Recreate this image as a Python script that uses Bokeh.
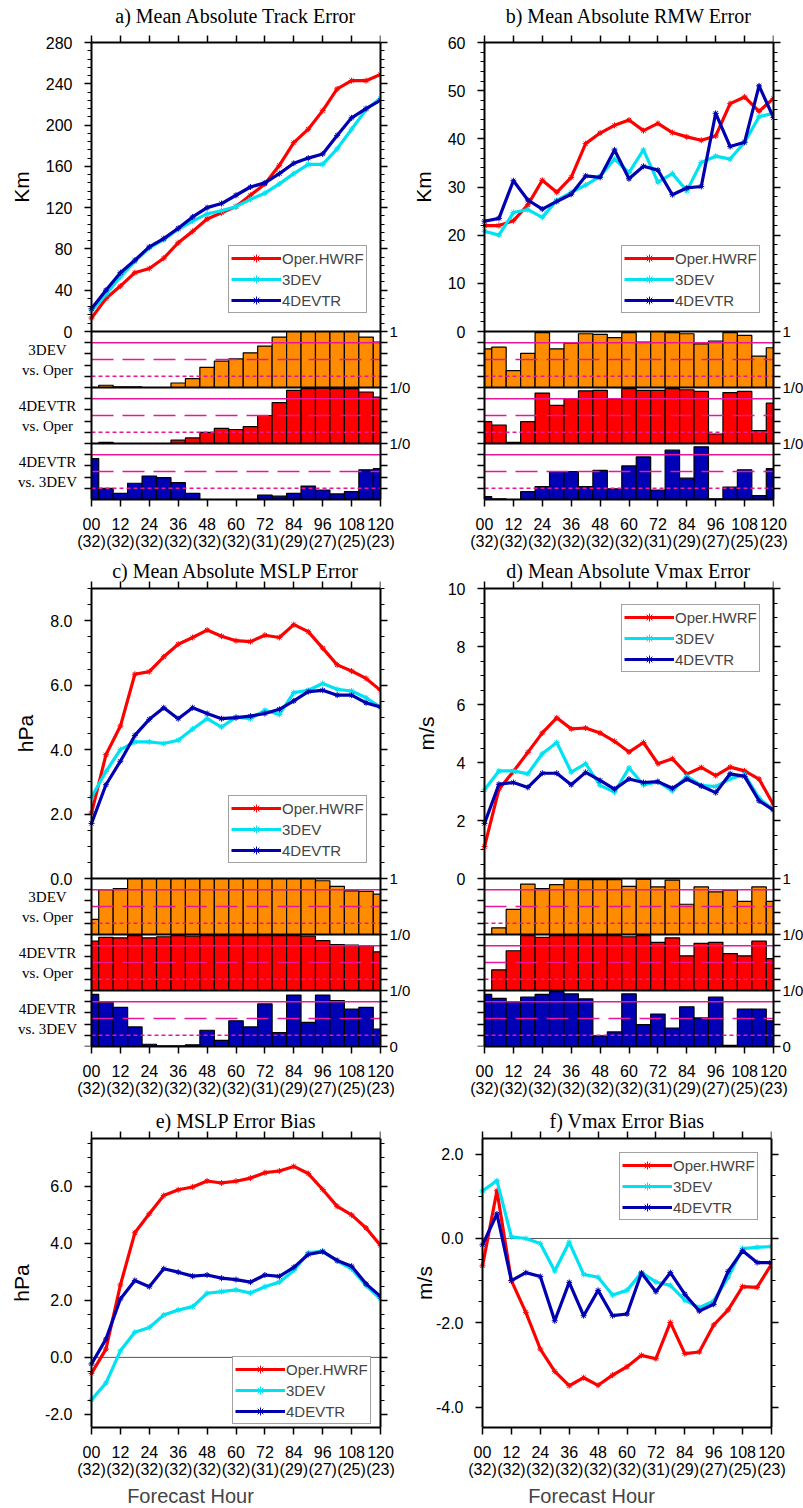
import math
from bokeh.plotting import figure
from bokeh.layouts import column, row
from bokeh.models import (Range1d, LinearAxis, FixedTicker, Legend, LegendItem)
from bokeh.core.properties import value
from bokeh.embed import file_html
from bokeh.resources import INLINE

# ---------------- data ----------------
hours = [0, 6, 12, 18, 24, 30, 36, 42, 48, 54, 60, 66, 72, 78, 84, 90, 96, 102, 108, 114, 120]
x_tick_hours = [0, 12, 24, 36, 48, 60, 72, 84, 96, 108, 120]
x_tick_labels = ["00", "12", "24", "36", "48", "60", "72", "84", "96", "108", "120"]
case_counts = ["(32)", "(32)", "(32)", "(32)", "(32)", "(32)", "(31)", "(29)", "(27)", "(25)", "(23)"]
series_names = ["Oper.HWRF", "3DEV", "4DEVTR"]
bar_names = ["3DEV\nvs. Oper", "4DEVTR\nvs. Oper", "4DEVTR\nvs. 3DEV"]

track_oper = [13, 32, 44, 57, 61, 71, 86, 97, 109, 115, 121, 132, 143, 161, 183, 196, 214, 235, 243, 243, 249]
track_3dev = [20, 36, 53, 68, 81, 89, 99, 107, 114, 117, 121, 128, 134, 143, 153, 162, 162, 177, 196, 215, 226]
track_4devtr = [22, 40, 57, 69, 82, 90, 100, 111, 120, 124, 132, 140, 144, 153, 163, 168, 172, 190, 207, 216, 224]

rmw_oper = [22.0, 22.0, 23.0, 26.3, 31.4, 28.9, 32.0, 39.0, 41.2, 42.8, 43.9, 41.7, 43.2, 41.3, 40.4, 39.7, 40.6, 47.3, 48.7, 45.7, 48.4]
rmw_3dev = [20.8, 20.0, 24.7, 25.3, 23.7, 27.2, 28.9, 30.4, 32.2, 35.8, 33.0, 37.7, 31.0, 32.8, 29.2, 35.1, 36.4, 35.8, 39.3, 44.6, 45.3]
rmw_4devtr = [22.9, 23.5, 31.3, 27.3, 25.4, 27.0, 28.5, 32.3, 32.0, 37.7, 31.7, 34.3, 33.5, 28.4, 29.8, 30.1, 45.3, 38.4, 39.3, 51.0, 44.4]

mslp_oper = [2.03, 3.84, 4.73, 6.34, 6.42, 6.88, 7.27, 7.48, 7.71, 7.52, 7.38, 7.35, 7.55, 7.48, 7.88, 7.66, 7.15, 6.63, 6.44, 6.21, 5.84]
mslp_3dev = [2.52, 3.32, 4.00, 4.24, 4.24, 4.19, 4.29, 4.64, 4.96, 4.70, 5.01, 4.96, 5.22, 5.09, 5.77, 5.84, 6.05, 5.87, 5.82, 5.61, 5.32]
mslp_4devtr = [1.71, 2.91, 3.64, 4.44, 4.94, 5.30, 4.96, 5.30, 5.12, 4.96, 4.99, 5.04, 5.12, 5.25, 5.51, 5.80, 5.84, 5.69, 5.69, 5.45, 5.32]

vmax_oper = [1.10, 3.08, 3.69, 4.35, 5.02, 5.54, 5.16, 5.19, 5.02, 4.73, 4.36, 4.69, 3.96, 4.13, 3.60, 3.83, 3.55, 3.84, 3.71, 3.43, 2.54]
vmax_3dev = [3.06, 3.71, 3.71, 3.61, 4.30, 4.69, 3.67, 3.96, 3.21, 2.98, 3.81, 3.23, 3.34, 3.02, 3.52, 3.21, 3.17, 3.44, 3.58, 2.77, 2.36]
vmax_4devtr = [1.90, 3.25, 3.31, 3.14, 3.63, 3.63, 3.23, 3.66, 3.38, 3.08, 3.43, 3.31, 3.34, 3.11, 3.43, 3.19, 2.96, 3.61, 3.52, 2.68, 2.36]

mslp_bias_oper = [-0.56, 0.29, 2.54, 4.37, 5.04, 5.68, 5.88, 5.98, 6.19, 6.12, 6.18, 6.29, 6.48, 6.54, 6.70, 6.45, 5.89, 5.30, 5.00, 4.54, 3.93]
mslp_bias_3dev = [-1.49, -0.90, 0.23, 0.88, 1.05, 1.49, 1.66, 1.78, 2.25, 2.31, 2.37, 2.26, 2.48, 2.64, 3.05, 3.67, 3.73, 3.38, 3.11, 2.52, 2.05]
mslp_bias_4devtr = [-0.23, 0.64, 2.05, 2.70, 2.48, 3.11, 2.99, 2.85, 2.89, 2.78, 2.73, 2.64, 2.89, 2.84, 3.16, 3.61, 3.71, 3.40, 3.20, 2.58, 2.14]

vmax_bias_oper = [-0.65, 1.13, -1.00, -1.75, -2.62, -3.15, -3.49, -3.30, -3.48, -3.24, -3.04, -2.77, -2.85, -1.99, -2.73, -2.69, -2.05, -1.69, -1.14, -1.16, -0.61]
vmax_bias_3dev = [1.13, 1.37, 0.04, 0.00, -0.12, -0.77, -0.09, -0.85, -0.92, -1.34, -1.23, -0.81, -1.03, -1.11, -1.46, -1.64, -1.48, -0.92, -0.24, -0.21, -0.19]
vmax_bias_4devtr = [-0.15, 0.58, -1.00, -0.81, -0.90, -1.95, -1.04, -1.83, -1.23, -1.83, -1.79, -0.82, -1.26, -0.81, -1.32, -1.72, -1.56, -0.78, -0.29, -0.57, -0.57]

track_3dev_vs_oper = [0.0, 0.04, 0.01, 0.01, 0.0, 0.0, 0.08, 0.16, 0.36, 0.47, 0.51, 0.62, 0.74, 0.90, 1.0, 1.0, 1.0, 1.0, 1.0, 0.90, 0.81]
track_4devtr_vs_oper = [0.0, 0.02, 0.0, 0.0, 0.0, 0.0, 0.06, 0.10, 0.20, 0.27, 0.25, 0.30, 0.50, 0.73, 0.95, 0.98, 0.99, 0.98, 0.98, 0.92, 0.83]
track_4devtr_vs_3dev = [0.73, 0.20, 0.11, 0.29, 0.42, 0.39, 0.30, 0.11, 0.0, 0.0, 0.0, 0.0, 0.08, 0.06, 0.11, 0.24, 0.17, 0.10, 0.14, 0.53, 0.55]

rmw_3dev_vs_oper = [0.69, 0.72, 0.30, 0.61, 0.98, 0.69, 0.79, 0.96, 0.95, 0.89, 0.98, 0.81, 1.0, 0.98, 0.96, 0.78, 0.83, 0.98, 0.93, 0.56, 0.71]
rmw_4devtr_vs_oper = [0.39, 0.33, 0.02, 0.39, 0.90, 0.68, 0.79, 0.94, 0.95, 0.79, 0.98, 0.95, 0.95, 0.98, 0.96, 0.93, 0.17, 0.91, 0.93, 0.23, 0.72]
rmw_4devtr_vs_3dev = [0.05, 0.01, 0.0, 0.14, 0.23, 0.50, 0.50, 0.23, 0.52, 0.19, 0.60, 0.76, 0.17, 0.88, 0.38, 0.94, 0.01, 0.22, 0.53, 0.07, 0.55]

mslp_3dev_vs_oper = [0.27, 0.80, 0.82, 1.0, 1.0, 1.0, 1.0, 1.0, 1.0, 1.0, 1.0, 1.0, 1.0, 1.0, 1.0, 1.0, 0.96, 0.86, 0.78, 0.77, 0.72]
mslp_4devtr_vs_oper = [0.88, 0.95, 0.94, 0.98, 0.94, 0.96, 0.98, 0.97, 0.98, 0.98, 0.98, 0.98, 0.98, 0.98, 0.98, 0.97, 0.89, 0.82, 0.81, 0.80, 0.69]
mslp_4devtr_vs_3dev = [0.93, 0.79, 0.70, 0.35, 0.04, 0.01, 0.01, 0.03, 0.29, 0.11, 0.46, 0.35, 0.76, 0.25, 0.92, 0.43, 0.92, 0.82, 0.67, 0.70, 0.31]

vmax_3dev_vs_oper = [0.0, 0.12, 0.45, 0.90, 0.82, 0.89, 0.99, 0.98, 0.98, 0.98, 0.86, 0.99, 0.85, 0.97, 0.54, 0.85, 0.76, 0.79, 0.59, 0.85, 0.59]
vmax_4devtr_vs_oper = [0.0, 0.37, 0.71, 0.98, 0.95, 0.98, 0.98, 0.98, 0.98, 0.98, 0.96, 0.98, 0.86, 0.94, 0.62, 0.84, 0.86, 0.66, 0.62, 0.88, 0.57]
vmax_4devtr_vs_3dev = [0.93, 0.86, 0.80, 0.88, 0.93, 0.98, 0.94, 0.85, 0.19, 0.26, 0.94, 0.39, 0.58, 0.33, 0.71, 0.51, 0.88, 0.02, 0.67, 0.67, 0.46]

sig_levels = [0.8, 0.5, 0.2]

# ---------------- style ----------------
SANS = "Liberation Sans"
SERIF = "Liberation Serif"
LINE_COLORS = ["#FF0000", "#00E2F2", "#0000B0"]
BAR_COLORS = ["#FF8C00", "#FF0000", "#0000B4"]
SIG_COLOR = "#E8169A"
SIG_DASH = ["solid", "22 9", "4 3"]
SUB_PX = 56
PLOT_PX = 289
XMIN, XMAX = hours[0], hours[-1]
PX_PER_H = PLOT_PX / (XMAX - XMIN)


def style_axis(ax):
    ax.axis_line_width = 2
    ax.axis_line_color = "black"
    ax.major_tick_in = 0
    ax.major_tick_out = 7
    ax.minor_tick_in = 0
    ax.minor_tick_out = 4
    ax.major_tick_line_width = 1.5
    ax.minor_tick_line_width = 1
    ax.major_label_text_font = SANS
    ax.major_label_text_font_size = "16px"
    ax.major_label_text_color = "black"


def hline(p, y, **kw):
    p.segment(x0=[XMIN], y0=[y], x1=[XMAX], y1=[y], **kw)


def make_panel(title, ylabel, ylo, yhi, ymaj, ymin, fmt, series, bars,
               legend_xy, left_px, right_px, line_px, top_px, bottom_border,
               title_gap, ylabel_dx, side_labels, xlabel=None):
    nb = len(bars) if bars else 0
    per_px = (yhi - ylo) / line_px
    u = per_px * SUB_PX
    ext_lo = ylo - nb * u
    ext_hi = yhi + top_px * per_px
    frame_h = top_px + line_px + nb * SUB_PX
    x_ext = left_px / PX_PER_H
    p = figure(frame_width=left_px + PLOT_PX, frame_height=frame_h,
               x_range=Range1d(XMIN - x_ext, XMAX), y_range=Range1d(ext_lo, ext_hi),
               x_axis_location=None, y_axis_location=None,
               toolbar_location=None, output_backend="svg",
               min_border_left=0, min_border_right=right_px,
               min_border_top=0, min_border_bottom=bottom_border)
    p.grid.visible = False
    p.outline_line_color = None
    p.background_fill_color = "white"
    p.border_fill_color = "white"

    # y ticks
    majors = [float(k * ymaj) for k in range(math.ceil(ylo / ymaj - 1e-9), math.floor(yhi / ymaj + 1e-9) + 1)]
    minors = [round(k * ymin, 6) for k in range(math.ceil(ylo / ymin - 1e-9), math.floor(yhi / ymin + 1e-9) + 1)]
    minors = [m for m in minors if all(abs(m - M) > 1e-9 for M in majors)]
    bar_ticks = []
    if nb:
        p.extra_y_ranges = {"bar": Range1d(0, nb + (line_px + top_px) / SUB_PX)}
        bar_ticks = [round(ylo - (nb - 0.2 * j) * u, 9) for j in range(5 * nb)]
    ticks = bar_ticks + majors

    left_lab = {t: "" for t in bar_ticks}
    left_lab.update({m: fmt.format(m) for m in majors})
    left = LinearAxis(ticker=FixedTicker(ticks=ticks, minor_ticks=minors),
                      major_label_overrides=left_lab, fixed_location=XMIN,
                      bounds=(ext_lo, yhi))
    right_lab = {t: "" for t in ticks}
    if nb:
        right_lab[majors[0]] = "1"
        for j in range(1, nb):
            right_lab[bar_ticks[5 * j]] = "1/0"
        right_lab[bar_ticks[0]] = "0"
    right = LinearAxis(ticker=FixedTicker(ticks=ticks, minor_ticks=minors),
                       major_label_overrides=right_lab, bounds=(ext_lo, yhi))
    top = LinearAxis(ticker=FixedTicker(ticks=x_tick_hours, minor_ticks=[]),
                     major_label_overrides={h: "" for h in x_tick_hours},
                     bounds=(XMIN, XMAX), fixed_location=yhi)
    bottom = LinearAxis(ticker=FixedTicker(ticks=x_tick_hours, minor_ticks=[]),
                        major_label_overrides={h: f"{l}\n{c}" for h, l, c in zip(x_tick_hours, x_tick_labels, case_counts)},
                        bounds=(XMIN, XMAX))
    for ax in (left, right, top, bottom):
        style_axis(ax)
    left.major_label_standoff = 12
    right.major_label_standoff = 2
    right.major_label_text_font_size = "15px"
    top.major_label_standoff = 0
    bottom.major_label_standoff = 9
    bottom.major_label_text_line_height = 1.05
    if xlabel:
        bottom.axis_label = xlabel
        bottom.axis_label_text_font = SANS
        bottom.axis_label_text_font_size = "20px"
        bottom.axis_label_text_font_style = "normal"
        bottom.axis_label_standoff = 4
    p.add_layout(left, "left")
    p.add_layout(right, "right")
    p.add_layout(top, "above")
    p.add_layout(bottom, "below")

    # significance bars
    if nb:
        for i, vals in enumerate(bars):
            off = nb - 1 - i
            p.quad(left=[max(h - 3, XMIN) for h in hours],
                   right=[min(h + 3, XMAX) for h in hours],
                   bottom=off, top=[off + v for v in vals],
                   fill_color=BAR_COLORS[i], line_color="black", line_width=1.2,
                   y_range_name="bar")
            for lev, dash in zip(sig_levels, SIG_DASH):
                hline(p, off + lev, line_color=SIG_COLOR, line_width=1.5,
                      line_dash=dash, y_range_name="bar")
            if side_labels:
                p.text(x=[XMIN], y=[off + 0.5], text=[bar_names[i]], x_offset=-44,
                       text_font=value(SERIF), text_font_size="15px",
                       text_align="center", text_baseline="middle",
                       text_line_height=1.25, text_color="black",
                       y_range_name="bar")
        for b in range(1, nb + 1):
            hline(p, b, line_color="black", line_width=2, y_range_name="bar")
    else:
        hline(p, 0, line_color="#555555", line_width=1)

    # lines
    items = []
    for name, vals, col in zip(series_names, series, LINE_COLORS):
        ln = p.line(hours, vals, line_color=col, line_width=3.2, line_join="round")
        sc = p.scatter(hours, vals, marker="asterisk", size=6, line_color=col,
                       line_width=1)
        items.append(LegendItem(label=name, renderers=[ln, sc]))
    leg = Legend(items=items, location=(legend_xy[0] + left_px, legend_xy[1]))
    leg.border_line_color = "#444444"
    leg.border_line_width = 1
    leg.background_fill_color = "white"
    leg.background_fill_alpha = 1
    leg.label_text_font = SANS
    leg.label_text_font_size = "15px"
    leg.glyph_width = 50
    leg.glyph_height = 20
    leg.label_height = 20
    leg.label_standoff = 1
    leg.padding = 2
    leg.spacing = 1
    leg.margin = 0
    p.add_layout(leg, "center")

    # panel title and y-axis title
    p.text(x=[(XMIN + XMAX) / 2], y=[yhi], text=[title], y_offset=-title_gap,
           text_font=value(SERIF), text_font_size="20px", text_align="center",
           text_baseline="middle", text_color="black")
    p.text(x=[XMIN], y=[(ylo + yhi) / 2], text=[ylabel], x_offset=ylabel_dx,
           angle=math.pi / 2, text_font=value(SANS), text_font_size="21px",
           text_align="center", text_baseline="middle", text_color="black")
    return p


pa = make_panel("a) Mean Absolute Track Error", "Km", 0, 280, 40, 8, "{:.0f}",
                [track_oper, track_3dev, track_4devtr],
                [track_3dev_vs_oper, track_4devtr_vs_oper, track_4devtr_vs_3dev],
                (137, 186), 91, 31, 289, 42, 58, 27, -70, True)
pb = make_panel("b) Mean Absolute RMW Error", "Km", 0, 60, 10, 2, "{:.0f}",
                [rmw_oper, rmw_3dev, rmw_4devtr],
                [rmw_3dev_vs_oper, rmw_4devtr_vs_oper, rmw_4devtr_vs_3dev],
                (137, 186), 71, 32, 289, 42, 58, 27, -61, False)
pc = make_panel("c) Mean Absolute MSLP Error", "hPa", 0, 9, 2, 0.5, "{:.1f}",
                [mslp_oper, mslp_3dev, mslp_4devtr],
                [mslp_3dev_vs_oper, mslp_4devtr_vs_oper, mslp_4devtr_vs_3dev],
                (137, 183), 91, 31, 290, 31, 61, 18, -66, True)
pd_ = make_panel("d) Mean Absolute Vmax Error", "m/s", 0, 10, 2, 0.5, "{:.0f}",
                 [vmax_oper, vmax_3dev, vmax_4devtr],
                 [vmax_3dev_vs_oper, vmax_4devtr_vs_oper, vmax_4devtr_vs_3dev],
                 (137, 374), 71, 32, 290, 31, 61, 18, -58, False)
pe = make_panel("e) MSLP Error Bias", "hPa", -2.46, 7.68, 2, 0.5, "{:.1f}",
                [mslp_bias_oper, mslp_bias_3dev, mslp_bias_4devtr], None,
                (141, 3), 91, 31, 289, 31, 81, 18, -70, False, xlabel="Forecast Hour")
pf = make_panel("f) Vmax Error Bias", "m/s", -4.48, 2.37, 2, 0.5, "{:.1f}",
                [vmax_bias_oper, vmax_bias_3dev, vmax_bias_4devtr], None,
                (137, 207), 71, 32, 289, 31, 81, 18, -58, False, xlabel="Forecast Hour")

layout = column(row(pa, pb), row(pc, pd_), row(pe, pf))
open("out.html", "w").write(file_html(layout, INLINE))
